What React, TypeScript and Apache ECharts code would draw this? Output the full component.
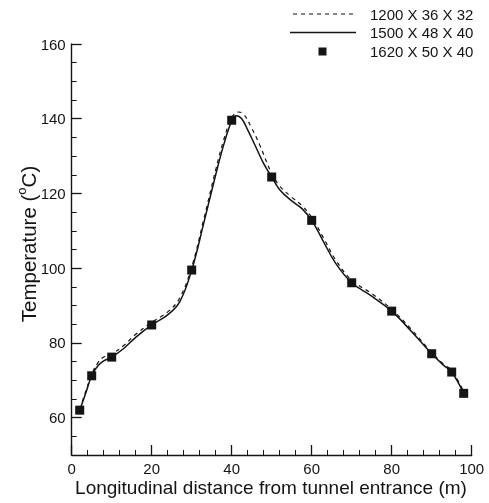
import React, { useEffect, useRef } from "react";
import * as echarts from "echarts";

const xTicks = [0, 20, 40, 60, 80, 100];
const yMajorTicks = [60, 80, 100, 120, 140, 160];

const legendNames = ["1200 X 36 X 32", "1500 X 48 X 40", "1620 X 50 X 40"];

// 1620 X 50 X 40 (squares)
const squarePoints: [number, number][] = [
  [2, 62], [5, 71.2], [10, 76.2], [20, 84.8], [30, 99.5], [40, 139.6],
  [50, 124.4], [60, 112.8], [70, 96.1], [80, 88.5], [90, 77.1], [95, 72.2], [98, 66.5],
];

// 1500 X 48 X 40 (solid)
const solidLine: [number, number][] = [
  [2, 62], [3.5, 66.5], [5, 71.2], [6.5, 73.8], [8, 75.2], [10, 76.2], [13, 78.5],
  [16, 81.5], [20, 84.8], [24, 87.5], [27, 91], [30, 99.5], [33, 112], [36, 125],
  [38, 133], [40, 139.4], [41.2, 140.8], [42.5, 140], [44, 137], [46, 132.5],
  [48, 128], [50, 124.4], [52, 121], [55, 118], [57.5, 116], [60, 112.8],
  [63, 107], [66, 101.3], [70, 96.1], [75, 92.5], [80, 88.5], [85, 83],
  [90, 77.1], [93, 74], [95, 72.2], [98, 66.5],
];

// 1200 X 36 X 32 (dashed)
const dashedLine: [number, number][] = [
  [2, 62.2], [3.5, 67], [5, 71.6], [6.5, 74.6], [8, 76.2], [10, 77], [13, 79.3],
  [16, 82.3], [20, 85.5], [24, 88.3], [27, 92], [30, 100.3], [33, 113], [36, 126.3],
  [38, 134.3], [40, 140.2], [41.7, 141.8], [43, 141.2], [45, 137.5], [47, 133],
  [50, 125.3], [52, 122], [55, 119], [57.5, 116.8], [60, 113.6],
  [63, 108], [66, 102.2], [70, 96.8], [75, 93.2], [80, 89], [85, 83.5],
  [90, 77.4], [93, 74.3], [95, 72.6], [98, 67],
];

const INK = "#151314";
const FONT = "Liberation Sans, Arial, sans-serif";

export default function App() {
  const ref = useRef<HTMLDivElement>(null);
  useEffect(() => {
    if (!ref.current) return;
    const chart = echarts.init(ref.current, null, { renderer: "svg" });
    chart.setOption({
      animation: false,
      textStyle: { fontFamily: FONT },
      grid: { left: 71.7, right: 17.3, top: 44, bottom: 48, containLabel: false },
      xAxis: {
        type: "value",
        min: xTicks[0],
        max: xTicks[xTicks.length - 1],
        interval: 20,
        axisLine: { show: true, lineStyle: { color: INK, width: 1.4 } },
        axisTick: { show: true, inside: true, length: 10, lineStyle: { color: INK, width: 1.3 } },
        minorTick: { show: true, splitNumber: 5, length: 5, lineStyle: { color: INK, width: 1 } },
        axisLabel: { color: INK, fontSize: 15, margin: 6, fontFamily: FONT },
        splitLine: { show: false },
      },
      yAxis: [
        {
          type: "value",
          position: "left",
          min: 50,
          max: 160,
          axisLine: { show: true, lineStyle: { color: INK, width: 1.4 } },
          axisTick: {
            show: true, inside: true, length: 10, customValues: yMajorTicks,
            lineStyle: { color: INK, width: 1.3 },
          },
          axisLabel: { color: INK, fontSize: 15, margin: 6, fontFamily: FONT, customValues: yMajorTicks },
          splitLine: { show: false },
        },
        {
          type: "value",
          position: "left",
          offset: 0,
          min: 50,
          max: 160,
          interval: 5,
          axisLine: { show: false },
          axisTick: { show: true, inside: true, length: 5, lineStyle: { color: INK, width: 1 } },
          axisLabel: { show: false },
          splitLine: { show: false },
        },
      ],
      series: [
        {
          name: legendNames[0],
          type: "line",
          data: dashedLine,
          smooth: 0.4,
          showSymbol: false,
          lineStyle: { color: INK, width: 1.2, type: [4, 4] },
          z: 2,
        },
        {
          name: legendNames[1],
          type: "line",
          data: solidLine,
          smooth: 0.4,
          showSymbol: false,
          lineStyle: { color: INK, width: 1.5 },
          z: 3,
        },
        {
          name: legendNames[2],
          type: "scatter",
          data: squarePoints,
          symbol: "rect",
          symbolSize: 9,
          itemStyle: { color: INK, opacity: 1 },
          z: 4,
        },
      ],
      graphic: [
        { type: "line", shape: { x1: 293, y1: 14, x2: 356, y2: 14 }, style: { stroke: INK, lineWidth: 1.2, lineDash: [4, 4] } },
        { type: "line", shape: { x1: 290, y1: 32.5, x2: 356, y2: 32.5 }, style: { stroke: INK, lineWidth: 1.5 } },
        { type: "rect", shape: { x: 318.5, y: 47.5, width: 8, height: 8 }, style: { fill: INK } },
        { type: "text", x: 370, y: 14, style: { text: legendNames[0], fill: INK, fontSize: 15, fontFamily: FONT, align: "left", verticalAlign: "middle" } },
        { type: "text", x: 370, y: 32.5, style: { text: legendNames[1], fill: INK, fontSize: 15, fontFamily: FONT, align: "left", verticalAlign: "middle" } },
        { type: "text", x: 370, y: 51.5, style: { text: legendNames[2], fill: INK, fontSize: 15, fontFamily: FONT, align: "left", verticalAlign: "middle" } },
        {
          type: "text", x: 271, y: 487,
          style: {
            text: "Longitudinal distance from tunnel entrance (m)", fill: INK, fontSize: 19,
            fontFamily: FONT, align: "center", verticalAlign: "middle",
          },
        },
        {
          type: "text", x: 27, y: 244, rotation: Math.PI / 2,
          style: {
            text: "{a|Temperature (}{s|o}{a|C)}",
            align: "center", verticalAlign: "middle",
            rich: {
              a: { fontSize: 20.5, fontFamily: FONT, fill: INK, lineHeight: 24, verticalAlign: "bottom" },
              s: { fontSize: 13, fontFamily: FONT, fill: INK, lineHeight: 24, verticalAlign: "top", padding: [0, 0, 9, 0] },
            },
          },
        },
      ],
    });
    return () => chart.dispose();
  }, []);
  return <div ref={ref} style={{ position: "fixed", left: 0, top: 0, width: 489, height: 503 }} />;
}
